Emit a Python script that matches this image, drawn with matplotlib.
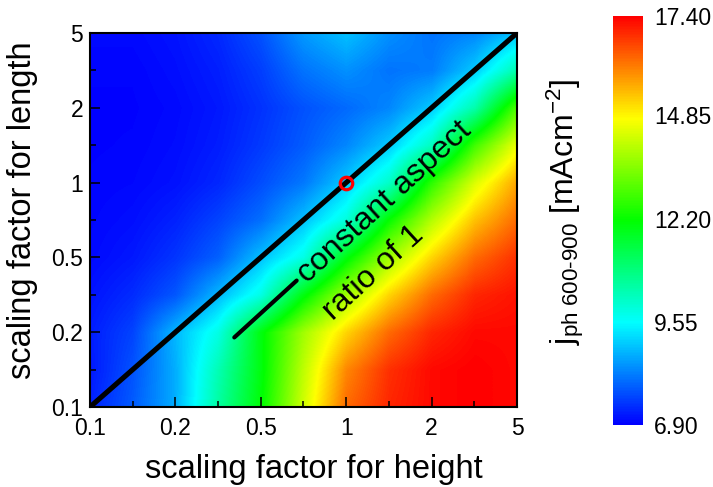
import numpy as np
import matplotlib
matplotlib.use("Agg")
import matplotlib.pyplot as plt
from matplotlib.colors import LinearSegmentedColormap

plt.rcParams['font.family'] = ['Liberation Sans', 'DejaVu Sans']
plt.rcParams['mathtext.fontset'] = 'custom'
plt.rcParams['mathtext.rm'] = 'Liberation Sans'
plt.rcParams['mathtext.it'] = 'Liberation Sans'
plt.rcParams['mathtext.bf'] = 'Liberation Sans:bold'

# ---- data -------------------------------------------------------------
height_labels = ['0.1', '0.2', '0.5', '1', '2', '5']
length_labels = ['0.1', '0.2', '0.5', '1', '2', '5']

# photocurrent j_ph (mA/cm^2) on a half-step grid of the (equally spaced)
# scaling-factor axes; rows = length (bottom -> top), cols = height (left -> right)
jph = np.array([
    [7.25, 7.85, 8.70, 10.50, 12.10, 14.30, 16.30, 17.00, 17.30, 17.40, 17.30],
    [7.15, 7.75, 8.70, 10.30, 12.00, 14.10, 16.00, 16.90, 17.30, 17.40, 17.30],
    [7.20, 7.60, 8.80,  9.80, 12.00, 13.80, 15.20, 16.30, 17.00, 17.30, 17.30],
    [7.10, 7.35, 7.80,  8.80,  9.80, 12.00, 13.80, 15.20, 16.30, 17.00, 17.20],
    [7.00, 7.15, 7.45,  7.90,  8.90,  9.80, 12.00, 13.80, 15.20, 16.30, 16.90],
    [6.97, 7.05, 7.25,  7.60,  8.05,  8.90,  9.90, 12.20, 14.00, 15.40, 16.30],
    [6.95, 6.98, 7.08,  7.30,  7.70,  8.15,  9.00, 10.10, 12.60, 14.40, 15.70],
    [6.93, 6.95, 7.03,  7.20,  7.50,  7.85,  8.30,  9.00, 10.20, 12.80, 14.60],
    [6.93, 6.93, 7.00,  7.15,  7.42,  7.75,  8.00,  8.30,  9.00, 10.40, 13.00],
    [6.95, 6.95, 7.05,  7.22,  7.55,  8.10,  8.40,  8.10,  8.20,  9.00, 10.40],
    [7.00, 7.00, 7.10,  7.32,  7.75,  8.50,  8.90,  8.40,  8.10,  8.30,  8.90],
])
cbar_ticks = [6.90, 9.55, 12.20, 14.85, 17.40]

# annotation: short line segment (index coordinates of the axes)
seg_x = [1.69, 2.42]
seg_y = [0.93, 1.69]
ref_point = 3  # index of scaling factor 1

# ---- figure -----------------------------------------------------------
fig = plt.figure(figsize=(7.13, 4.87), dpi=100)
ax = fig.add_axes([0.1262, 0.1643, 0.5989, 0.7679])
cax = fig.add_axes([0.8598, 0.1273, 0.0421, 0.8398])

cmap = LinearSegmentedColormap.from_list(
    'rainbow5', ['#0000ff', '#00ffff', '#00ff00', '#ffff00', '#ff0000'])

n_h = len(height_labels)
n_rows, n_cols = jph.shape
step = (n_h - 1) / (n_cols - 1)
im = ax.imshow(jph, origin='lower', cmap=cmap, vmin=cbar_ticks[0], vmax=cbar_ticks[-1],
               extent=(-step / 2, n_h - 1 + step / 2, -step / 2, n_h - 1 + step / 2),
               interpolation='bilinear', aspect='auto')

idx = np.arange(n_h)
ax.plot([idx[0], idx[-1]], [idx[0], idx[-1]], color='black', lw=3.7, solid_capstyle='butt',
        zorder=3)
ax.plot(seg_x, seg_y, color='black', lw=3.0, solid_capstyle='round', zorder=3)
ax.plot([ref_point], [ref_point], marker='o', ms=9.0, mew=2.3, mec='red', mfc='none',
        ls='none', zorder=4)

ax.text(2.48, 1.72, 'constant aspect', rotation=42.5, rotation_mode='anchor',
        ha='left', va='center', fontsize=23, color='black')
ax.text(2.78, 1.23, 'ratio of 1', rotation=42.5, rotation_mode='anchor',
        ha='left', va='center', fontsize=23, color='black')

ax.set_xlim(idx[0], idx[-1])
ax.set_ylim(idx[0], idx[-1])
ax.set_xticks(idx)
ax.set_xticklabels(height_labels)
ax.set_yticks(idx)
ax.set_yticklabels(length_labels)
ax.set_xticks(idx[:-1] + 0.5, minor=True)
ax.set_yticks(idx[:-1] + 0.5, minor=True)
ax.tick_params(which='major', direction='in', length=7, width=1.1, labelsize=16.5, pad=5)
ax.tick_params(axis='x', which='major', pad=7.5)
ax.tick_params(which='minor', direction='in', length=4.3, width=1.1)
for s in ax.spines.values():
    s.set_linewidth(1.5)

ax.set_xlabel('scaling factor for height', fontsize=23.5)
ax.set_ylabel('scaling factor for length', fontsize=23.5)
ax.xaxis.set_label_coords(0.5246, -0.125)
ax.yaxis.set_label_coords(-0.122, 0.527)

cb = fig.colorbar(im, cax=cax, ticks=cbar_ticks, format='%.2f')
cb.outline.set_visible(False)
cax.tick_params(length=0, labelsize=16.5, pad=8)

fig.text(565 / 713, 1 - 212 / 487,
         r'$\mathregular{j_{ph\ 600\text{-}900}\ [mAcm^{-2}]}$',
         rotation=90, ha='center', va='center', fontsize=23)

fig.savefig('out.png', dpi=100)
